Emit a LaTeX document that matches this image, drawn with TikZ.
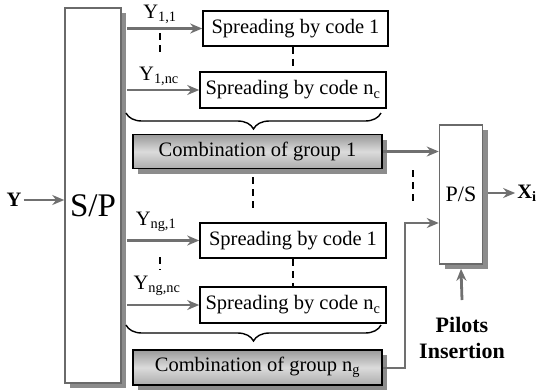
\documentclass[tikz,border=0pt]{standalone}
\usepackage{fontspec}
\setmainfont{Liberation Serif}
\newfontfamily\tnr{Liberation Serif}
\usetikzlibrary{arrows.meta,shadows,decorations.pathreplacing,calc}
\definecolor{arrgray}{HTML}{707070}
\definecolor{boxgray}{HTML}{6A6A6A}
\definecolor{shadgray}{HTML}{8C8C8C}
\tikzset{
  txt/.style={font=\tnr\fontsize{20.5}{24}\selectfont, inner sep=0pt},
  sbox/.style={draw=boxgray, line width=1.5pt, fill=white, inner sep=0pt,
    drop shadow={shadow xshift=5pt, shadow yshift=-5pt, fill=shadgray, opacity=1}},
  spread/.style={draw=black, line width=1.6pt, fill=white, minimum height=35pt,
    minimum width=186pt, inner sep=0pt, font=\tnr\fontsize{20.5}{24}\selectfont},
  combo/.style={draw=black, line width=1.8pt, top color=gray!80, bottom color=gray!65,
    middle color=gray!28, minimum width=249pt, minimum height=34pt, inner sep=0pt,
    font=\tnr\fontsize{20.5}{24}\selectfont,
    drop shadow={shadow xshift=5pt, shadow yshift=-5pt, fill=shadgray, opacity=1}},
  garrow/.style={draw=arrgray, line width=2.8pt, -{Stealth[length=12pt,width=10pt]}},
  thinarrow/.style={draw=arrgray, line width=2pt, -{Stealth[length=12pt,width=10pt]}},
  dashln/.style={draw=black, line width=2pt, dash pattern=on 7pt off 5pt},
  bracel/.style={draw=black, line width=1.4pt, decorate,
    decoration={brace, mirror, amplitude=16pt}},
}
\begin{document}
\begin{tikzpicture}[x=1pt,y=-1pt]
\useasboundingbox (0,0) rectangle (540,389);

% S/P block
\node[sbox, minimum width=56pt, minimum height=375pt] (sp) at (93,195.5) {};
\node[font=\tnr\fontsize{33}{36}\selectfont, inner sep=0pt] (splab) at (93,206) {S/P};

% input
\node[font=\tnr\bfseries\fontsize{20.5}{24}\selectfont, inner sep=2pt] (yin) at (14,200) {Y};
\draw[garrow] (yin.east) -- (sp.west |- yin.east);

% group 1 spreading
\node[spread, minimum width=185pt] (s11) at (295.5,28.5) {Spreading by code 1};
\node[spread, minimum height=36pt] (s1n) at (293,90) {Spreading by code n\textsubscript{c}};
\draw[garrow] ([xshift=5pt]sp.east |- s11.west) -- (s11.west);
\draw[garrow] ([xshift=5pt]sp.east |- s1n.west) -- (s1n.west);
\node[txt] (l11) at (160,14) {Y\textsubscript{1,1}};
\node[txt] (l1n) at (159,76) {Y\textsubscript{1,nc}};
\draw[dashln] (160,33) -- (160,53);
\draw[dashln] (s1n.north |- s11.south) -- (s1n.north);
\draw[bracel] (126,113) -- (381,113);
\node[combo] (c1) at (257.5,151.5) {Combination of group 1};

\draw[dashln] (253,177) -- (253,212);

% group ng spreading
\node[spread, minimum height=35pt] (s21) at (293,240.5) {Spreading by code 1};
\node[spread, minimum height=36pt] (s2n) at (293,305) {Spreading by code n\textsubscript{c}};
\draw[garrow] ([xshift=5pt]sp.east |- s21.west) -- (s21.west);
\draw[garrow] ([xshift=5pt]sp.east |- s2n.west) -- (s2n.west);
\node[txt] (l21) at (156,222) {Y\textsubscript{ng,1}};
\node[txt] (l2n) at (157,286) {Y\textsubscript{ng,nc}};
\draw[dashln] (160,257) -- (160,270);
\draw[dashln] (s2n.north |- s21.south) -- (s2n.north);
\draw[bracel] (126,325) -- (381,325);
\node[combo, minimum height=35pt] (cng) at (257.5,367.5) {Combination of group n\textsubscript{g}};

% P/S block
\node[sbox, minimum width=43pt, minimum height=139pt, font=\tnr\fontsize{22}{26}\selectfont] (ps) at (461,194.5) {P/S};
\draw[garrow] (c1.east) -- (c1.east -| ps.west);
\coordinate (bend) at (405,223);
\draw[thinarrow] (cng.east) -| (bend) -- (bend -| ps.west);
\draw[dashln] (413,170) -- (413,205);

% output
\node[font=\tnr\bfseries\fontsize{20.5}{24}\selectfont, inner sep=0pt] (xo) at (527,193) {X\textsubscript{i}};
\draw[garrow] ([xshift=5pt]ps.east |- xo.west) -- ([xshift=-2pt]xo.west);

% pilots
\node[font=\tnr\bfseries\fontsize{22}{26}\selectfont, align=center, inner sep=0pt] (pil) at (462,338) {Pilots\\Insertion};
\coordinate (pilstart) at (462,300);
\draw[garrow] (pilstart) -- ([yshift=-4pt]ps.south);
\end{tikzpicture}
\end{document}
